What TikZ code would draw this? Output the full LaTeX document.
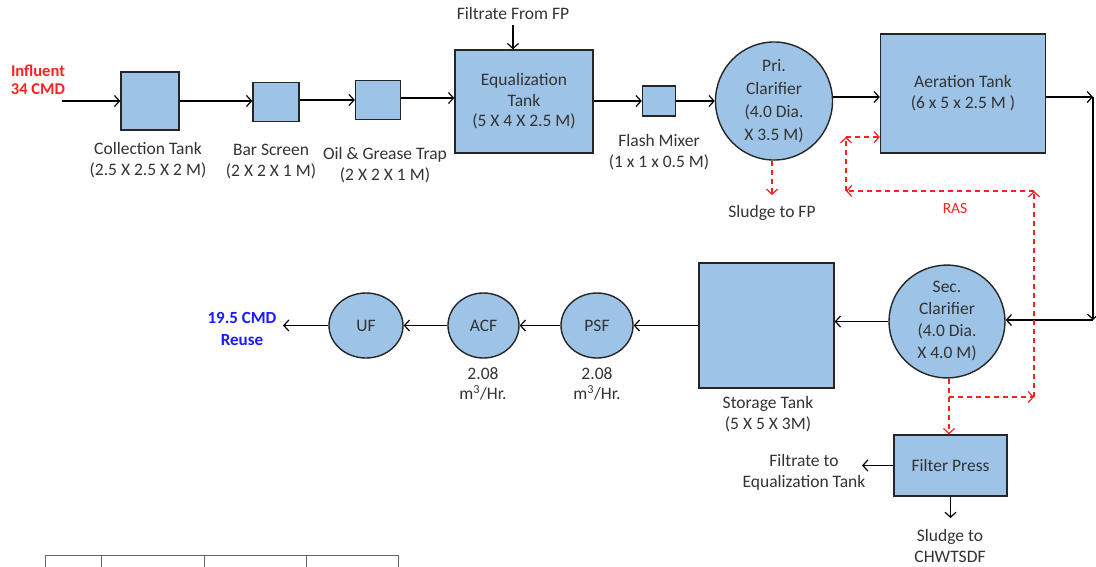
\documentclass[tikz,border=0pt]{standalone}
\usepackage{fontspec}
\setmainfont{Carlito}
\usetikzlibrary{arrows.meta,shapes.geometric}
\definecolor{boxfill}{HTML}{9DC3E6}
\definecolor{txt}{HTML}{333333}
\definecolor{rasred}{HTML}{FF2020}
\definecolor{reuseblue}{HTML}{1A1AFF}
\begin{document}
\begin{tikzpicture}[x=1pt,y=-1pt,
  every node/.style={font=\fontsize{17.5}{21}\selectfont, text=txt},
  tank/.style={draw=black!85, line width=1.4pt, fill=boxfill, inner sep=0pt, align=center},
  ell/.style={tank, ellipse},
  flow/.style={draw=black, line width=1.2pt, -{Straight Barb[length=5pt,width=11pt]}},
  ras/.style={draw=rasred, line width=1.2pt, dash pattern=on 5pt off 4pt, -{Straight Barb[length=5pt,width=11pt]}},
  lbl/.style={align=center, inner sep=0pt},
]
\useasboundingbox (0,0) rectangle (1096,566);
\fill[white] (0,0) rectangle (1096,566);

% top row tanks
\node[tank, minimum width=58, minimum height=58] (ct) at (150,101) {};
\node[tank, minimum width=46, minimum height=39] (bs) at (276,102) {};
\node[tank, minimum width=45, minimum height=39] (og) at (378,100) {};
\node[tank, minimum width=138, minimum height=103, font=\fontsize{17.5}{20.5}\selectfont] (eq) at (524,101.5) {Equalization\\Tank\\(5 X 4 X 2.5 M)};
\node[tank, minimum width=33, minimum height=30] (fm) at (659,101) {};
\node[ell, minimum width=117, minimum height=106, font=\fontsize{17.5}{23}\selectfont] (pri) at (774,101) {Pri.\\Clarifier\\(4.0 Dia.\\X 3.5 M)};
\node[tank, minimum width=165, minimum height=119] (aer) at (963,93.5) {Aeration Tank\\(6 x 5 x 2.5 M )};

% second row
\node[ell, minimum width=116, minimum height=107, font=\fontsize{17.5}{22}\selectfont] (sec) at (947,321.5) {Sec.\\Clarifier\\(4.0 Dia.\\X 4.0 M)};
\node[tank, minimum width=135, minimum height=125] (st) at (766.5,325.5) {};
\node[ell, minimum width=72, minimum height=65] (psf) at (597,325.5) {PSF};
\node[ell, minimum width=71, minimum height=65] (acf) at (483.5,325.5) {ACF};
\node[ell, minimum width=74, minimum height=65] (uf) at (366,325.5) {UF};
\node[tank, minimum width=113, minimum height=61] (fp) at (950.5,465.5) {Filter Press};

% labels
\node[lbl, text=rasred, font=\bfseries\fontsize{16.5}{18}\selectfont] (inl) at (38,80) {Influent\\34 CMD};
\node[lbl] (ctl) at (148,160.5) {Collection Tank\\(2.5 X 2.5 X 2 M)};
\node[lbl] (bsl) at (271,161.5) {Bar Screen\\(2 X 2 X 1 M)};
\node[lbl] (ogl) at (385,165.5) {Oil \& Grease Trap\\(2 X 2 X 1 M)};
\node[lbl] (ffl) at (513,13) {Filtrate From FP};
\node[lbl] (fml) at (659,152.5) {Flash Mixer\\(1 x 1 x 0.5 M)};
\node[lbl] (sfl) at (772,213) {Sludge to FP};
\node[lbl, text=rasred, font=\fontsize{15.5}{18}\selectfont] (rasl) at (955,209) {RAS};
\node[lbl] (stl) at (768,414.5) {Storage Tank\\(5 X 5 X 3M)};
\node[lbl, text=reuseblue, font=\bfseries\fontsize{17}{22}\selectfont] (reu) at (242,329) {19.5 CMD\\Reuse};
\node[lbl, font=\fontsize{17.5}{20}\selectfont] (acfl) at (483,384) {2.08\\m\textsuperscript{3}/Hr.};
\node[lbl, font=\fontsize{17.5}{20}\selectfont] (psfl) at (597,384) {2.08\\m\textsuperscript{3}/Hr.};
\node[lbl] (ftl) at (804,472.5) {Filtrate to\\Equalization Tank};
\node[lbl] (sdl) at (950,545.5) {Sludge to\\CHWTSDF};

% free ends
\coordinate (inf) at (62,101);
\coordinate (ffin) at (513,25);
\coordinate (r1) at (1093,97);
\coordinate (r2) at (1093,320);
\coordinate (reuse) at (283,325.5);
\coordinate (sfp) at (772,195);
\coordinate (ftq) at (862,465.5);
\coordinate (sdq) at (950.5,518);
\coordinate (ra) at (949,397);
\coordinate (rb) at (1034,397);
\coordinate (rc) at (1034,191);
\coordinate (rd) at (846,191);
\coordinate (re) at (846,137);

% main flow
\draw[flow] (inf) -- (inf -| ct.west);
\draw[flow] (ct.east) -- (ct.east -| bs.west);
\draw[flow] (og.west -| bs.east) -- (og.west);
\draw[flow] ([yshift=2pt]og.east) -- ([yshift=2pt]og.east -| eq.west);
\draw[flow] (eq.east |- fm.west) -- (fm.west);
\draw[flow] (fm.east) -- (fm.east -| pri.west);
\draw[flow] ([yshift=4pt]pri.east) -- ([yshift=4pt]pri.east -| aer.west);
\draw[flow] (ffin) -- (ffin |- eq.north);
\draw[flow] (r1 -| aer.east) -- (r1);
\draw[flow] (r1) -- (r2);
\draw[flow] (r2) -- (r2 -| sec.east);
\draw[flow] (sec.west) -- (sec.west -| st.east);
\draw[flow] (st.west) -- (psf.east);
\draw[flow] (psf.west) -- (acf.east);
\draw[flow] (acf.west) -- (uf.east);
\draw[flow] (uf.west) -- (reuse);
\draw[flow] (fp.west) -- (ftq);
\draw[flow] (fp.south) -- (sdq);

% sludge / RAS
\draw[ras] (sfp |- pri.south) -- (sfp);
\draw[ras] (ra |- sec.south) -- (ra |- fp.north);
\draw[ras] (ra) -- (rb);
\draw[ras] (rb) -- (rc);
\draw[ras] (rc) -- (rd);
\draw[ras] (rd) -- (re);
\draw[ras] (re) -- (re -| aer.west);

% cut-off table at the bottom
\draw[black!60, line width=1pt] (45,567) -- (45,555) -- (398,555) -- (398,567);
\draw[black!60, line width=1pt] (101,555) -- (101,567) (204,555) -- (204,567) (306,555) -- (306,567);
\end{tikzpicture}
\end{document}
